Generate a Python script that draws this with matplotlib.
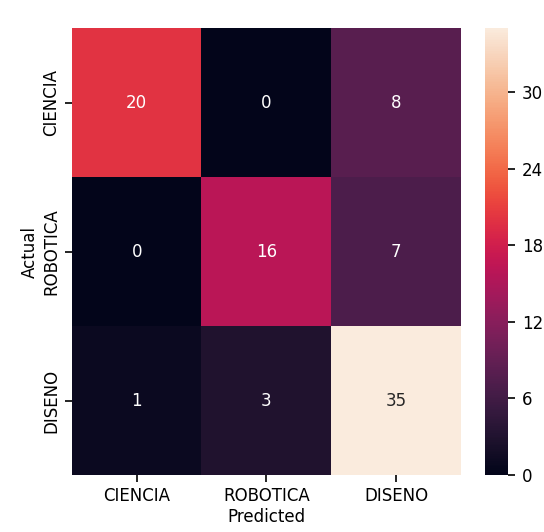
import numpy as np
import matplotlib
matplotlib.use('Agg')
import matplotlib.pyplot as plt
import seaborn as sns

labels = ['CIENCIA', 'ROBOTICA', 'DISENO']
row_ciencia = [20, 0, 8]
row_robotica = [0, 16, 7]
row_diseno = [1, 3, 35]
cbar_ticks = [0, 6, 12, 18, 24, 30]

cm = np.array([row_ciencia, row_robotica, row_diseno])

fs = 12
fig = plt.figure(figsize=(5.44, 5.32), dpi=100)
ax = fig.add_axes([0.132, 0.107, 0.715, 0.840])
cax = fig.add_axes([0.892, 0.107, 0.042, 0.840])

sns.heatmap(cm, annot=True, fmt='d', cmap='rocket', ax=ax, cbar_ax=cax,
            xticklabels=labels, yticklabels=labels,
            annot_kws={'fontsize': fs})
cax.set_yticks(cbar_ticks)
cax.tick_params(labelsize=fs, length=5, width=1.2, pad=5)
cax.set_frame_on(False)
ax.tick_params(labelsize=fs, length=5, width=1.2)
ax.set_xlabel('Predicted', fontsize=fs, labelpad=2)
ax.set_ylabel('Actual', fontsize=fs, labelpad=2)

fig.savefig('out.png', dpi=100)
